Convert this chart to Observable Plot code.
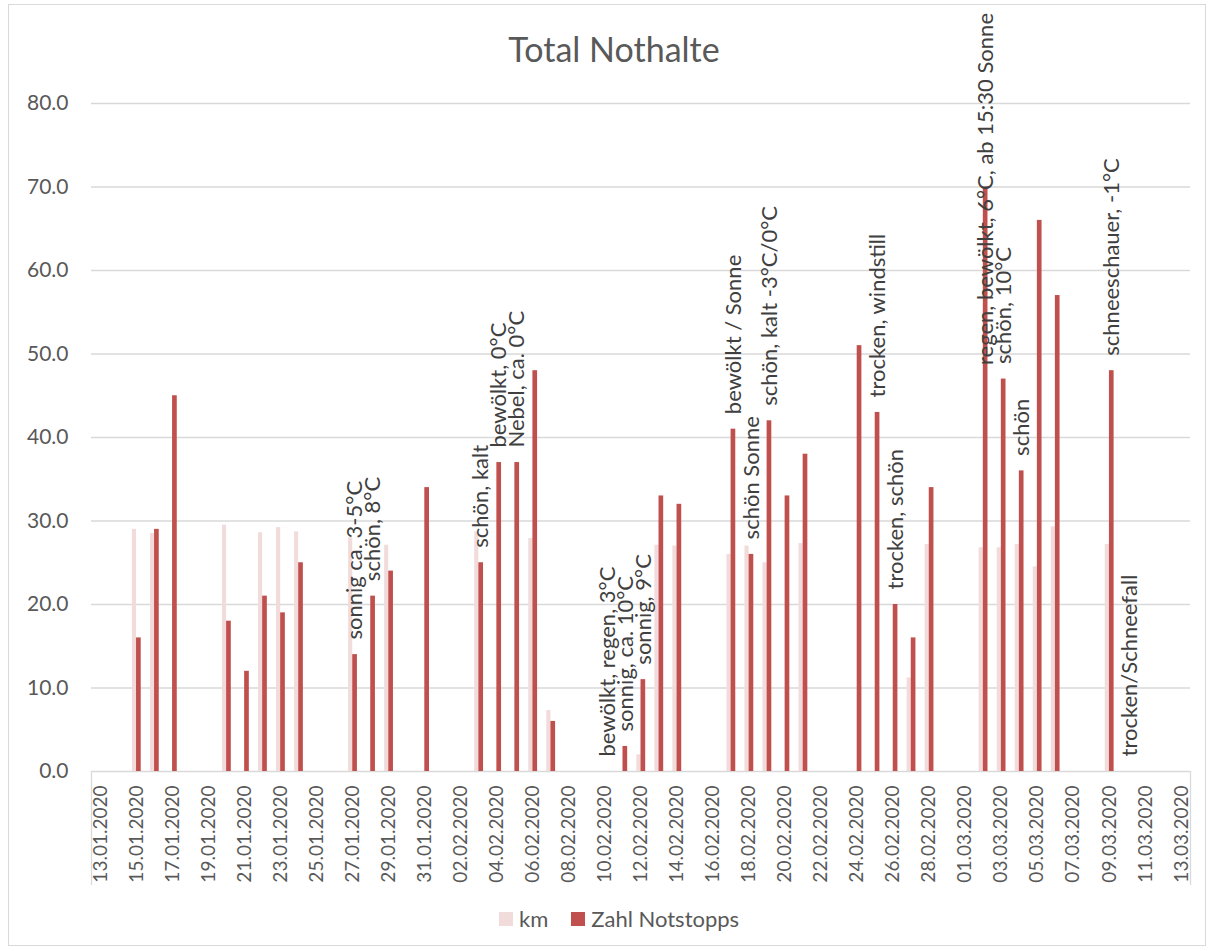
<!DOCTYPE html>
<html>
<head>
<meta charset="utf-8">
<script src="https://cdn.jsdelivr.net/npm/d3@7"></script>
<script src="https://cdn.jsdelivr.net/npm/@observablehq/plot@0.6"></script>
<style>
  body { margin: 0; background: #fff; font-family: Lato, "Open Sans", sans-serif; }
  #wrap { position: relative; width: 1214px; height: 951px; overflow: hidden; }
  #border { position: absolute; left: 8px; top: 4px; width: 1196px; height: 940px; border: 1px solid #d9d9d9; }
  #title { position: absolute; left: 0; top: 32px; width: 1228px; text-align: center; font-size: 34px; line-height: 1; color: #595959; }
  #chart { position: absolute; left: 0; top: 0; }
  #legend { position: absolute; left: 499px; top: 908px; display: flex; align-items: center; font-size: 22px; color: #595959; line-height: 1; }
  .sw { width: 14px; height: 14px; display: inline-block; margin-right: 6px; }
  .item { display: flex; align-items: center; margin-right: 23px; }
</style>
</head>
<body>
<div id="wrap">
  <div id="border"></div>
  <div id="title">Total Nothalte</div>
  <div id="chart"></div>
  <div id="legend"></div>
</div>
<script>
// Categories: one per day
const dates = [
  "13.01.2020","14.01.2020","15.01.2020","16.01.2020","17.01.2020","18.01.2020","19.01.2020",
  "20.01.2020","21.01.2020","22.01.2020","23.01.2020","24.01.2020","25.01.2020","26.01.2020",
  "27.01.2020","28.01.2020","29.01.2020","30.01.2020","31.01.2020","01.02.2020","02.02.2020",
  "03.02.2020","04.02.2020","05.02.2020","06.02.2020","07.02.2020","08.02.2020","09.02.2020",
  "10.02.2020","11.02.2020","12.02.2020","13.02.2020","14.02.2020","15.02.2020","16.02.2020",
  "17.02.2020","18.02.2020","19.02.2020","20.02.2020","21.02.2020","22.02.2020","23.02.2020",
  "24.02.2020","25.02.2020","26.02.2020","27.02.2020","28.02.2020","29.02.2020","01.03.2020",
  "02.03.2020","03.03.2020","04.03.2020","05.03.2020","06.03.2020","07.03.2020","08.03.2020",
  "09.03.2020","10.03.2020","11.03.2020","12.03.2020","13.03.2020"
];
// Series "km"
const km = [
  null, null, 29.0, 28.5, null, null, null,
  29.5, null, 28.6, 29.2, 28.7, null, null,
  28.0, null, 27.1, null, null, null, null,
  28.7, null, null, 27.9, 7.3, null, null,
  null, null, 2.0, 27.1, 27.0, null, null,
  26.0, 27.0, 25.0, null, 27.3, null, null,
  null, null, null, 11.2, 27.2, null, null,
  26.8, 26.8, 27.2, 24.5, 29.3, null, null,
  27.2, null, null, null, null
];
// Series "Zahl Notstopps"
const stops = [
  null, null, 16, 29, 45, null, null,
  18, 12, 21, 19, 25, null, null,
  14, 21, 24, null, 34, null, null,
  25, 37, 37, 48, 6, null, null,
  0, 3, 11, 33, 32, null, null,
  41, 26, 42, 33, 38, null, null,
  51, 43, 20, 16, 34, null, null,
  70, 47, 36, 66, 57, null, null,
  48, 0, null, null, null
];
// Data labels on "Zahl Notstopps"
const noteDates = [
  "27.01.2020","28.01.2020","03.02.2020","04.02.2020","05.02.2020",
  "10.02.2020","11.02.2020","12.02.2020","17.02.2020","18.02.2020","19.02.2020",
  "25.02.2020","26.02.2020","02.03.2020","03.03.2020","04.03.2020","09.03.2020","10.03.2020"
];
const noteTexts = [
  "sonnig ca. 3-5°C","schön, 8°C","schön, kalt","bewölkt, 0°C","Nebel, ca. 0°C",
  "bewölkt, regen, 3°C","sonnig, ca. 10°C","sonnig, 9°C","bewölkt / Sonne","schön Sonne","schön, kalt -3°C/0°C",
  "trocken, windstill","trocken, schön","regen, bewölkt, 6°C, ab 15:30 Sonne","schön, 10°C","schön","schneeschauer, -1°C","trocken/Schneefall"
];
const yTicks = [0, 10, 20, 30, 40, 50, 60, 70, 80];
const seriesNames = ["km", "Zahl Notstopps"];
const seriesColors = ["#f2dcdb", "#c0504d"];

const rows = dates.map((d, i) => ({i, date: d, km: km[i], stops: stops[i]}));
const notes = noteDates.map((d, k) => {
  const i = dates.indexOf(d);
  return {i, text: noteTexts[k], value: stops[i]};
});
const xTicks = dates.map((d, i) => i).filter(i => i % 2 === 0).map(i => i + 0.5);

const plot = Plot.plot({
  width: 1214,
  height: 951,
  marginLeft: 91,
  marginRight: 24,
  marginTop: 103,
  marginBottom: 180,
  style: {fontFamily: "Lato, 'Open Sans', sans-serif", color: "#595959", background: "transparent", overflow: "visible"},
  x: {domain: [0, dates.length], axis: null},
  y: {domain: [0, 80], axis: null},
  marks: [
    Plot.gridY(yTicks, {stroke: "#d9d9d9", strokeOpacity: 1, strokeWidth: 1.3}),
    Plot.ruleX([0, dates.length], {y1: () => 0, y2: () => 0, insetBottom: -114, stroke: "#d9d9d9", strokeWidth: 1.3}),
    Plot.rectY(rows.filter(d => d.km != null), {x1: d => d.i + 0.27, x2: d => d.i + 0.5, y: "km", fill: seriesColors[0]}),
    Plot.rectY(rows.filter(d => d.stops), {x1: d => d.i + 0.5, x2: d => d.i + 0.76, y: "stops", fill: seriesColors[1]}),
    Plot.axisY(yTicks, {tickSize: 0, tickPadding: 23, tickFormat: d => d.toFixed(1), fontSize: 21}),
    Plot.axisX(xTicks, {tickSize: 0, tickPadding: 14, tickRotate: -90, tickFormat: t => dates[Math.floor(t)], fontSize: 19}),
    Plot.text(notes, {x: d => d.i + 0.64, y: "value", text: "text", rotate: -90, textAnchor: "start", lineAnchor: "middle", dy: -15, fontSize: 22, fill: "#404040", className: "notes"})
  ]
});
document.getElementById("chart").appendChild(plot);

// keep data labels inside the chart area (as the spreadsheet does)
plot.querySelectorAll("g.notes text, g[aria-label='text'] text").forEach(t => {
  const r = t.getBoundingClientRect();
  if (r.top < 13) {
    t.setAttribute("transform", `translate(0,${13 - r.top}) ` + t.getAttribute("transform"));
  }
});

const legend = document.getElementById("legend");
seriesNames.forEach((n, k) => {
  const it = document.createElement("div");
  it.className = "item";
  it.innerHTML = `<span class="sw" style="background:${seriesColors[k]}"></span><span>${n}</span>`;
  legend.appendChild(it);
});
</script>
</body>
</html>
